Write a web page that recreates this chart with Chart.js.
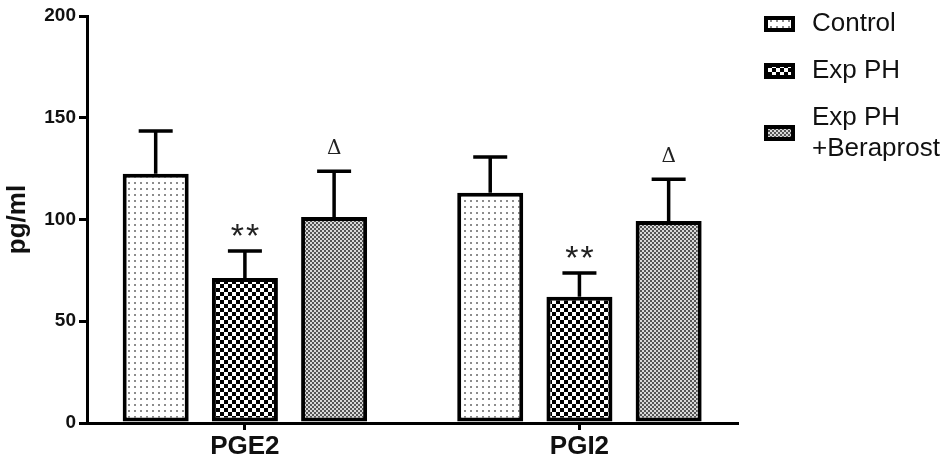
<!DOCTYPE html>
<html>
<head>
<meta charset="utf-8">
<script src="https://cdn.jsdelivr.net/npm/chart.js@4.4.0/dist/chart.umd.min.js"></script>
<style>
  html, body { margin: 0; padding: 0; background: #fff; }
  #wrap { width: 952px; height: 466px; position: relative; }
</style>
</head>
<body>
<div id="wrap"><canvas id="chart"></canvas></div>
<script>
// data
const categories = ['PGE2', 'PGI2'];
const seriesNames = ['Control', 'Exp PH', 'Exp PH\n+Beraprost'];
const controlValues = [122.5, 113.2];
const expPhValues = [71.3, 62.1];
const beraprostValues = [101.2, 99.3];
const controlErrors = [21, 17.5];
const expPhErrors = [13.2, 11.6];
const beraprostErrors = [22.5, 20.5];
const expPhMarks = ['**', '**'];
const beraprostMarks = ['\u0394', '\u0394'];
const yTicks = [0, 50, 100, 150, 200];

/**
 * small repeating fill for a bar
 * @param size {number} tile size
 * @param draw {function} paints one tile
 */
function makePattern(size, draw) {
    const c = document.createElement('canvas');
    c.width = size;
    c.height = size;
    draw(c.getContext('2d'));
    return c.getContext('2d').createPattern(c, 'repeat');
}

const dotFill = makePattern(6, g => {
    g.fillStyle = '#fff';
    g.fillRect(0, 0, 6, 6);
    g.fillStyle = '#8c8c8c';
    g.fillRect(2, 2, 2, 2);
});
const checkFill = makePattern(8, g => {
    g.fillStyle = '#fff';
    g.fillRect(0, 0, 8, 8);
    g.fillStyle = '#000';
    g.fillRect(0, 0, 4, 4);
    g.fillRect(4, 4, 4, 4);
});
const fineFill = makePattern(4, g => {
    g.fillStyle = '#555';
    g.fillRect(0, 0, 4, 4);
    g.fillStyle = '#d8d8d8';
    g.fillRect(0, 0, 2, 2);
    g.fillRect(2, 2, 2, 2);
});
const fills = [dotFill, checkFill, fineFill];

// bars sit on a numeric x axis so the two groups land where the picture has them
const toPoints = vals => vals.map((v, i) => ({ x: i, y: v }));

// upper error bars and significance marks
const errorBars = {
    id: 'errorBars',
    afterDatasetsDraw(chart) {
        const ctx = chart.ctx;
        const y = chart.scales.y;
        ctx.save();
        ctx.strokeStyle = '#000';
        ctx.lineWidth = 3.5;
        chart.data.datasets.forEach((ds, i) => {
            chart.getDatasetMeta(i).data.forEach((bar, j) => {
                const top = y.getPixelForValue(ds.data[j].y + ds.errors[j]);
                ctx.beginPath();
                ctx.moveTo(bar.x, bar.y);
                ctx.lineTo(bar.x, top);
                ctx.moveTo(bar.x - 17, top);
                ctx.lineTo(bar.x + 17, top);
                ctx.stroke();
                const mark = ds.marks ? ds.marks[j] : '';
                ctx.fillStyle = '#222';
                ctx.textAlign = 'center';
                ctx.textBaseline = 'alphabetic';
                if (mark === '**') {
                    ctx.font = '34px "Liberation Sans", Arial';
                    const w = ctx.measureText('*').width;
                    const base = top - 24 + 0.58 * 34;
                    ctx.fillText('*', bar.x - w / 2 - 1, base);
                    ctx.fillText('*', bar.x + w / 2 + 1, base);
                } else if (mark) {
                    ctx.font = '20px "DejaVu Serif", serif';
                    ctx.fillText(mark, bar.x, top - 17);
                }
            });
        });
        ctx.restore();
    }
};

// legend on the right, drawn by hand for the two-line label
const sideLegend = {
    id: 'sideLegend',
    afterDraw(chart) {
        const ctx = chart.ctx;
        const rows = [24, 71, 133];
        ctx.save();
        ctx.font = '26px "Liberation Sans", Arial';
        ctx.textBaseline = 'middle';
        seriesNames.forEach((name, i) => {
            const cy = rows[i];
            ctx.fillStyle = '#000';
            ctx.fillRect(764, cy - 8, 31, 16);
            ctx.fillStyle = fills[i];
            ctx.fillRect(768, cy - 4, 23, 8);
            ctx.fillStyle = '#111';
            const lines = name.split('\n');
            lines.forEach((ln, k) => {
                ctx.fillText(ln, 812, cy + (k - (lines.length - 1) / 2) * 31);
            });
        });
        ctx.restore();
    }
};

new Chart(document.getElementById('chart'), {
    type: 'bar',
    data: {
        datasets: [
            { label: 'Control', data: toPoints(controlValues), errors: controlErrors, backgroundColor: dotFill },
            { label: 'Exp PH', data: toPoints(expPhValues), errors: expPhErrors, marks: expPhMarks, backgroundColor: checkFill },
            { label: 'Exp PH +Beraprost', data: toPoints(beraprostValues), errors: beraprostErrors, marks: beraprostMarks, backgroundColor: fineFill }
        ].map(ds => Object.assign(ds, {
            borderColor: '#000',
            borderWidth: 4,
            borderSkipped: false,
            categoryPercentage: 0.8,
            barPercentage: 0.74
        }))
    },
    options: {
        responsive: true,
        maintainAspectRatio: false,
        animation: false,
        layout: { padding: { top: 16, right: 215, left: 0, bottom: 0 } },
        plugins: {
            legend: { display: false },
            tooltip: { enabled: false }
        },
        scales: {
            x: {
                type: 'linear',
                min: -0.472,
                max: 1.471,
                offset: false,
                afterFit(scale) { scale.height = 43; },
                afterBuildTicks(scale) { scale.ticks = categories.map((c, i) => ({ value: i })); },
                border: { display: true, color: '#000', width: 3 },
                grid: { offset: false, drawOnChartArea: false, drawTicks: true, tickLength: 7, color: '#000', lineWidth: 3 },
                ticks: {
                    color: '#111',
                    padding: 1,
                    callback: v => categories[v],
                    font: { family: '"Liberation Sans", Arial', size: 26, weight: 'bold' }
                }
            },
            y: {
                min: 0,
                max: 200,
                afterFit(scale) { scale.width = 87; },
                afterBuildTicks(scale) { scale.ticks = yTicks.map(v => ({ value: v })); },
                border: { display: true, color: '#000', width: 3 },
                grid: { drawOnChartArea: false, drawTicks: true, tickLength: 8, color: '#000', lineWidth: 3 },
                ticks: { color: '#111', padding: 3, font: { family: '"Liberation Sans", Arial', size: 19, weight: 'bold' } },
                title: { display: true, text: 'pg/ml', color: '#111', padding: { top: 2, bottom: 0 }, font: { family: '"Liberation Sans", Arial', size: 26, weight: 'bold' } }
            }
        }
    },
    plugins: [errorBars, sideLegend]
});
</script>
</body>
</html>
